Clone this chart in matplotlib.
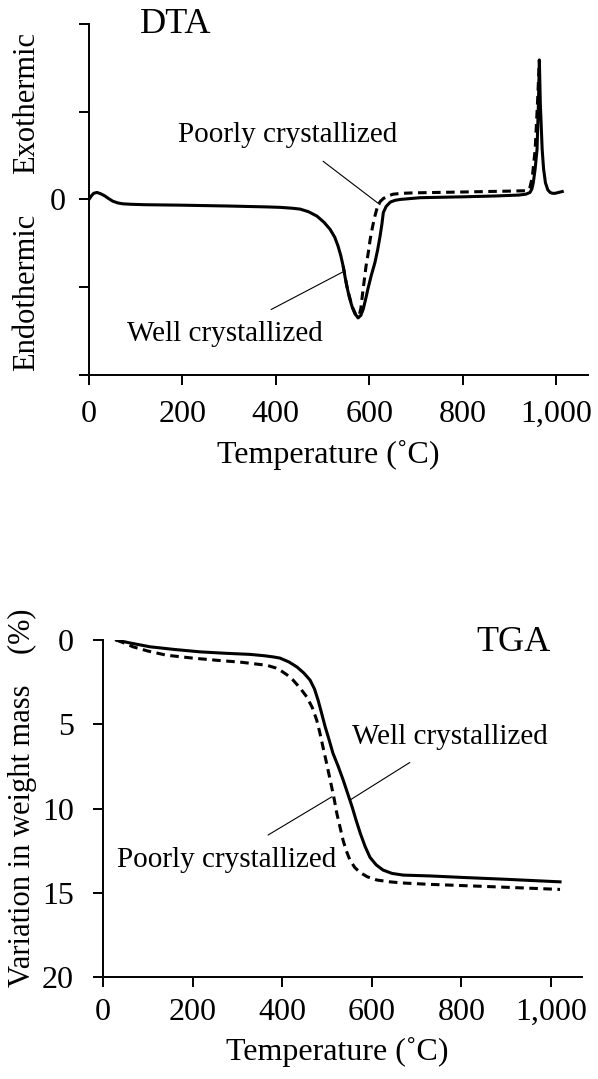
import numpy as np
import matplotlib
matplotlib.use("Agg")
import matplotlib.pyplot as plt

plt.rcParams['font.family'] = ['Liberation Serif', 'DejaVu Serif']
plt.rcParams['font.size'] = 21

# --- DTA data (temperature in C, signal in arbitrary units) ---
dta_well_t = [0, 5, 10, 17, 25, 34, 42, 51, 62, 73, 90, 120, 195, 300, 380, 409, 435, 452,
              470, 488, 503, 516, 526, 533, 539, 544, 548, 552, 557, 563, 569, 576, 582,
              587, 592, 597, 604, 612, 618, 623, 627, 630, 636, 645, 655, 666, 709, 800,
              872, 920, 935, 944, 948, 951, 955, 959, 962, 964, 966, 970, 973, 977, 982,
              987, 992, 998, 1005, 1013]
dta_well_v = [0, 0.04, 0.07, 0.08, 0.065, 0.04, 0.01, -0.02, -0.04, -0.05, -0.055, -0.06,
              -0.065, -0.075, -0.085, -0.09, -0.10, -0.11, -0.14, -0.19, -0.26, -0.34,
              -0.43, -0.53, -0.64, -0.76, -0.88, -0.99, -1.11, -1.22, -1.30, -1.35, -1.32,
              -1.25, -1.14, -1.02, -0.87, -0.72, -0.57, -0.42, -0.28, -0.15, -0.08, -0.03,
              -0.01, 0.0, 0.02, 0.03, 0.04, 0.05, 0.06, 0.08, 0.12, 0.19, 0.35, 0.57, 1.1,
              1.59, 1.1, 0.57, 0.35, 0.19, 0.11, 0.08, 0.07, 0.07, 0.08, 0.09]

dta_poor_t = [544, 552, 563, 571, 578, 582, 585, 589, 593, 598, 602, 607, 612, 616, 619,
              624, 630, 640, 651, 670, 694, 800, 900, 938, 944, 949, 955, 960, 964]
dta_poor_v = [-0.76, -0.99, -1.22, -1.31, -1.33, -1.24, -1.10, -0.93, -0.76, -0.60, -0.45,
              -0.31, -0.19, -0.11, -0.06, -0.02, 0.01, 0.04, 0.06, 0.07, 0.075, 0.085, 0.095,
              0.10, 0.14, 0.26, 0.57, 1.1, 1.59]

# --- TGA data (temperature in C, mass loss in %) ---
tga_well_t = [30, 60, 105, 160, 217, 270, 328, 360, 380, 395, 415, 433, 448, 462, 472, 480,
              488, 496, 505, 513, 525, 536, 546, 556, 565, 574, 585, 596, 610, 625, 645, 670,
              730, 812, 900, 1020]
tga_well_v = [0, 0.17, 0.4, 0.56, 0.7, 0.78, 0.85, 0.93, 1.0, 1.07, 1.3, 1.6, 1.95, 2.37,
              2.9, 3.56, 4.35, 5.16, 5.95, 6.7, 7.5, 8.3, 9.1, 9.9, 10.7, 11.45, 12.25, 12.9,
              13.35, 13.65, 13.85, 13.95, 14.0, 14.1, 14.2, 14.35]

tga_poor_t = [30, 45, 67, 100, 142, 200, 254, 310, 366, 385, 395, 410, 424, 440, 455, 467,
              477, 484, 491, 499, 507, 515, 522, 529, 536, 543, 551, 562, 574, 590, 611, 640,
              670, 730, 850, 1020]
tga_poor_v = [0, 0.15, 0.4, 0.65, 0.9, 1.07, 1.2, 1.32, 1.5, 1.65, 1.78, 2.05, 2.37, 2.85,
              3.38, 4.0, 4.75, 5.5, 6.35, 7.3, 8.3, 9.3, 10.3, 11.1, 11.9, 12.5, 13.05, 13.5,
              13.8, 14.05, 14.24, 14.35, 14.42, 14.5, 14.62, 14.8]

x_ticks = [0, 200, 400, 600, 800, 1000]
x_tick_labels = ['0', '200', '400', '600', '800', '1,000']
tga_y_ticks = [0, 5, 10, 15, 20]

fig = plt.figure(figsize=(5.98, 10.79), dpi=100)
ax1 = fig.add_axes([0.1488, 0.6525, 0.8344, 0.3253])
ax2 = fig.add_axes([0.1722, 0.0945, 0.801, 0.3123])

lw = 2.2
dash = (0, (2.8, 1.8))
for ax in (ax1, ax2):
    ax.spines['top'].set_visible(False)
    ax.spines['right'].set_visible(False)
    ax.spines['left'].set_linewidth(1.4)
    ax.spines['bottom'].set_linewidth(1.4)
    ax.tick_params(direction='out', length=7, width=1.4, labelsize=23)
    ax.set_xticks(x_ticks)
    ax.set_xticklabels(x_tick_labels)

# DTA panel
ax1.plot(dta_well_t, dta_well_v, color='black', lw=lw)
ax1.plot(dta_poor_t, dta_poor_v, color='black', lw=lw, ls=dash)
ax1.set_xlim(0, 1068)
ax1.set_ylim(-2, 2)
ax1.set_yticks([-2, -1, 0, 1, 2])
ax1.set_yticklabels(['', '', '0', '', ''])
ax1.tick_params(axis='x', pad=11)
ax1.tick_params(axis='y', pad=10)
ax1.set_xlabel('Temperature (˚C)', fontsize=23, va='center')
ax1.xaxis.set_label_coords(0.479, -0.228)
ax1.text(186, 1.99, 'DTA', ha='center', va='center', fontsize=26)
ax1.text(-133, 1.1, 'Exothermic', rotation=90, ha='center', va='center', fontsize=22)
ax1.text(-133, -1.06, 'Endothermic', rotation=90, ha='center', va='center', fontsize=22)
ax1.annotate('Poorly crystallized', xy=(623, -0.06), xytext=(426, 0.74),
             ha='center', va='center',
             arrowprops=dict(arrowstyle='-', lw=0.8, color='black', shrinkA=13, shrinkB=0))
ax1.annotate('Well crystallized', xy=(542, -0.83), xytext=(291, -1.53),
             ha='center', va='center',
             arrowprops=dict(arrowstyle='-', lw=0.8, color='black', shrinkA=13, shrinkB=0))

# TGA panel
ax2.plot(tga_well_t, tga_well_v, color='black', lw=lw)
ax2.plot(tga_poor_t, tga_poor_v, color='black', lw=lw, ls=dash)
ax2.set_xlim(0, 1069)
ax2.set_ylim(20, 0)
ax2.set_yticks(tga_y_ticks)
ax2.tick_params(axis='x', pad=8)
ax2.tick_params(axis='y', pad=14)
ax2.set_xlabel('Temperature (˚C)', fontsize=23, va='center')
ax2.xaxis.set_label_coords(0.49, -0.2226)
ax2.set_ylabel('Variation in weight mass    (%)', fontsize=22, va='center')
ax2.yaxis.set_label_coords(-0.169, 0.531)
ax2.text(917, 0.12, 'TGA', ha='center', va='center', fontsize=26)
ax2.annotate('Well crystallized', xy=(551, 9.5), xytext=(775, 5.76),
             ha='center', va='center',
             arrowprops=dict(arrowstyle='-', lw=0.8, color='black', shrinkA=13, shrinkB=0))
ax2.annotate('Poorly crystallized', xy=(511, 9.3), xytext=(275, 13.06),
             ha='center', va='center',
             arrowprops=dict(arrowstyle='-', lw=0.8, color='black', shrinkA=13, shrinkB=0))

fig.savefig('out.png', dpi=100)
